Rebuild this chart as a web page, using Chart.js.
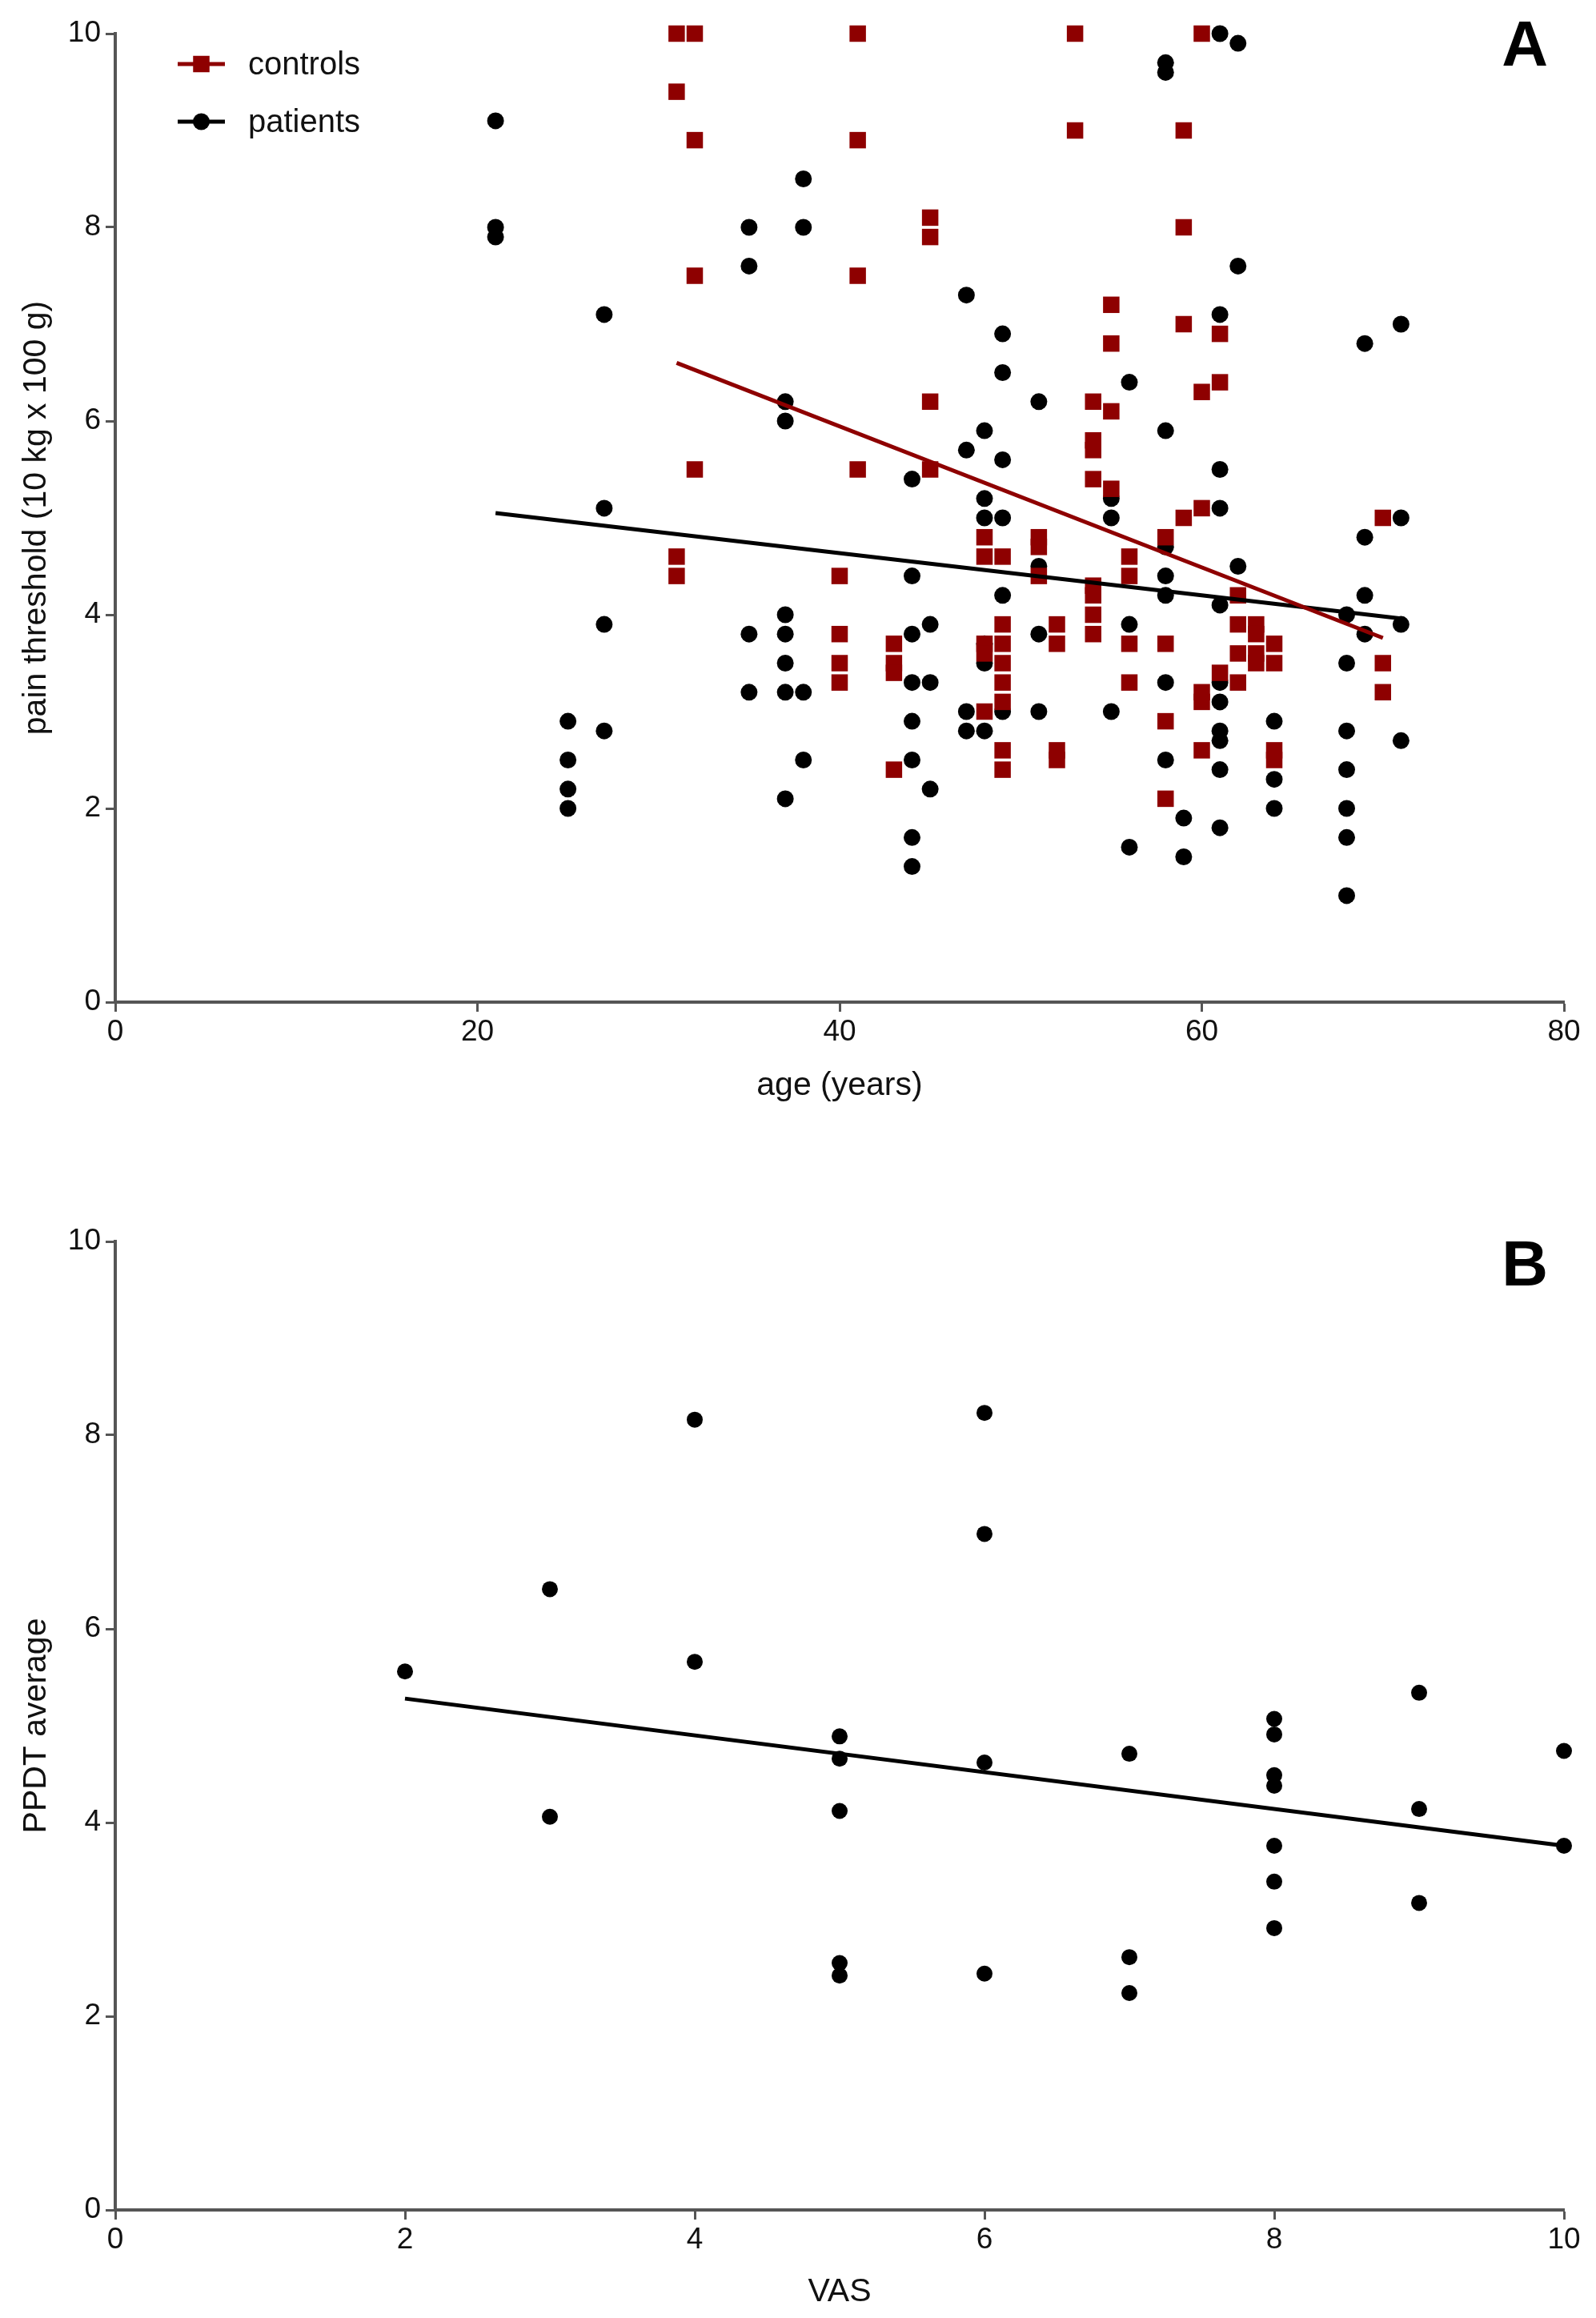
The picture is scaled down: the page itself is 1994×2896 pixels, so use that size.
<!DOCTYPE html>
<html>
<head>
<meta charset="utf-8">
<script src="https://cdn.jsdelivr.net/npm/chart.js@4.4.0/dist/chart.umd.min.js"></script>
<style>
  html, body { margin: 0; padding: 0; background: #fff; }
  body { width: 1994px; height: 2896px; position: relative; overflow: hidden; }
  .panel { position: absolute; left: 0; width: 1994px; }
  #panelA { top: 0; height: 1400px; }
  #panelB { top: 1400px; height: 1496px; }
</style>
</head>
<body>
<div class="panel" id="panelA"><canvas id="chartA"></canvas></div>
<div class="panel" id="panelB"><canvas id="chartB"></canvas></div>
<script>
// ---- panel A: pain threshold vs age ----
const controlsAge = [
  31, 31, 31, 31,  32, 32, 32, 32,  40, 40, 40, 40,  41, 41, 41, 41,
  43, 43, 43, 43,  45, 45, 45, 45,  48, 48, 48, 48, 48,
  49, 49, 49, 49, 49, 49, 49, 49,  51, 51, 51,  52, 52, 52, 52,  53, 53,
  54, 54, 54, 54, 54, 54, 54, 54,  55, 55, 55, 55,  56, 56, 56, 56,
  58, 58, 58, 58,  59, 59, 59, 59,  60, 60, 60, 60, 60, 60,  61, 61, 61,
  62, 62, 62, 62,  63, 63, 63, 63,  64, 64, 64, 64,  70, 70, 70
];
const controlsThreshold = [
  10.0, 9.4, 4.6, 4.4,  10.0, 8.9, 7.5, 5.5,  4.4, 3.8, 3.5, 3.3,  10.0, 8.9, 7.5, 5.5,
  3.7, 3.5, 3.4, 2.4,  8.1, 7.9, 6.2, 5.5,  4.8, 4.6, 3.7, 3.6, 3.0,
  4.6, 3.9, 3.7, 3.5, 3.3, 3.1, 2.6, 2.4,  4.8, 4.7, 4.4,  3.9, 3.7, 2.6, 2.5,  10.0, 9.0,
  6.2, 5.8, 5.7, 5.4, 4.3, 4.2, 4.0, 3.8,  7.2, 6.8, 6.1, 5.3,  4.6, 4.4, 3.7, 3.3,
  4.8, 3.7, 2.9, 2.1,  9.0, 8.0, 7.0, 5.0,  10.0, 6.3, 5.1, 3.2, 3.1, 2.6,  6.9, 6.4, 3.4,
  4.2, 3.9, 3.6, 3.3,  3.9, 3.8, 3.6, 3.5,  3.7, 3.5, 2.6, 2.5,  5.0, 3.5, 3.2
];
const patientsAge = [
  21, 21, 21,  25, 25, 25, 25,  27, 27, 27, 27,  35, 35, 35, 35,
  37, 37, 37, 37, 37, 37, 37,  38, 38, 38, 38,
  44, 44, 44, 44, 44, 44, 44, 44,  45, 45, 45,  47, 47, 47, 47,
  48, 48, 48, 48, 48, 48,  49, 49, 49, 49, 49, 49,  51, 51, 51, 51,
  55, 55, 55,  56, 56, 56,  58, 58, 58, 58, 58, 58, 58, 58,  59, 59,
  61, 61, 61, 61, 61, 61, 61, 61, 61, 61, 61,  62, 62, 62,  64, 64, 64,
  68, 68, 68, 68, 68, 68, 68,  69, 69, 69, 69,  71, 71, 71, 71
];
const patientsThreshold = [
  9.1, 8.0, 7.9,  2.9, 2.5, 2.2, 2.0,  7.1, 5.1, 3.9, 2.8,  8.0, 7.6, 3.8, 3.2,
  6.2, 6.0, 4.0, 3.8, 3.5, 3.2, 2.1,  8.5, 8.0, 3.2, 2.5,
  5.4, 4.4, 3.8, 3.3, 2.9, 2.5, 1.7, 1.4,  3.9, 3.3, 2.2,  7.3, 5.7, 3.0, 2.8,
  5.9, 5.2, 5.0, 3.7, 3.5, 2.8,  6.9, 6.5, 5.6, 5.0, 4.2, 3.0,  6.2, 4.5, 3.8, 3.0,
  5.2, 5.0, 3.0,  6.4, 3.9, 1.6,  9.7, 9.6, 5.9, 4.7, 4.4, 4.2, 3.3, 2.5,  1.9, 1.5,
  10.0, 7.1, 5.5, 5.1, 4.1, 3.3, 3.1, 2.8, 2.7, 2.4, 1.8,  9.9, 7.6, 4.5,  2.9, 2.3, 2.0,
  4.0, 3.5, 2.8, 2.4, 2.0, 1.7, 1.1,  6.8, 4.8, 4.2, 3.8,  7.0, 5.0, 3.9, 2.7
];
// regression lines, end points
const controlsFitAge = [31, 70];
const controlsFitValue = [6.6, 3.76];
const patientsFitAge = [21, 71];
const patientsFitValue = [5.05, 3.96];

// ---- panel B: PPDT average vs VAS ----
const vasScore = [2, 3, 3, 4, 4, 5, 5, 5, 5, 5, 6, 6, 6, 6, 7, 7, 7, 8, 8, 8, 8, 8, 8, 8, 9, 9, 9, 10, 10];
const ppdtAverage = [5.56, 6.41, 4.06, 8.16, 5.66, 4.89, 4.66, 4.12, 2.55, 2.42, 8.23, 6.98, 4.62, 2.44,
  4.71, 2.61, 2.24, 5.07, 4.91, 4.49, 4.38, 3.76, 3.39, 2.91, 5.34, 4.14, 3.17, 4.74, 3.76];
const vasFitScore = [2, 10];
const vasFitValue = [5.28, 3.76];

const RED = '#8e0000';
const FONT = '"Liberation Sans", Arial, Helvetica, sans-serif';

const toPoints = (xs, ys) => xs.map((x, i) => ({ x: x, y: ys[i] }));

// panel letter and in-plot legend
const panelDecor = {
  id: 'panelDecor',
  afterDraw(chart, args, opts) {
    const { ctx, chartArea } = chart;
    ctx.save();
    ctx.fillStyle = '#000';
    ctx.font = 'bold 80px ' + FONT;
    ctx.textAlign = 'right';
    ctx.textBaseline = 'middle';
    ctx.fillText(opts.letter, chartArea.right - 20, chartArea.top + opts.letterDy);

    (opts.legend || []).forEach((idx, i) => {
      const ds = chart.data.datasets[idx];
      const y = chartArea.top + 38 + i * 72;
      const x0 = chartArea.left + 78, x1 = chartArea.left + 137;
      ctx.strokeStyle = ds.backgroundColor;
      ctx.lineWidth = 5;
      ctx.beginPath();
      ctx.moveTo(x0, y);
      ctx.lineTo(x1, y);
      ctx.stroke();
      ctx.fillStyle = ds.backgroundColor;
      Chart.helpers.drawPoint(ctx, { pointStyle: ds.pointStyle, radius: ds.pointRadius, rotation: 0, borderWidth: 0 }, (x0 + x1) / 2, y);
      ctx.fillStyle = '#111';
      ctx.font = '40px ' + FONT;
      ctx.textAlign = 'left';
      ctx.fillText(ds.label, chartArea.left + 166, y + 2);
    });
    ctx.restore();
  }
};

function makeScales(xMax, xStep, xTitle, yTitle, xHeight, xTitlePad) {
  const grid = { display: true, drawOnChartArea: false, drawTicks: true, tickLength: 12, tickWidth: 3, tickColor: '#555' };
  const border = { display: true, color: '#555', width: 4 };
  return {
    x: {
      type: 'linear', min: 0, max: xMax,
      ticks: { stepSize: xStep, color: '#111', font: { family: FONT, size: 37 }, padding: 4 },
      grid: grid, border: border,
      title: { display: true, text: xTitle, color: '#111', font: { family: FONT, size: 41 }, padding: { top: 0, bottom: xTitlePad } },
      afterFit: s => { s.height = xHeight; }
    },
    y: {
      type: 'linear', min: 0, max: 10,
      ticks: { stepSize: 2, color: '#111', font: { family: FONT, size: 37 }, padding: 6 },
      grid: grid, border: border,
      title: { display: true, text: yTitle, color: '#111', font: { family: FONT, size: 41 }, padding: { top: 21, bottom: 0 } },
      afterFit: s => { s.width = 144; }
    }
  };
}

new Chart(document.getElementById('chartA'), {
  type: 'scatter',
  data: {
    datasets: [
      { label: 'controls fit', data: toPoints(controlsFitAge, controlsFitValue), showLine: true, borderColor: RED, borderWidth: 5, pointRadius: 0, order: 0, clip: false },
      { label: 'patients fit', data: toPoints(patientsFitAge, patientsFitValue), showLine: true, borderColor: '#000', borderWidth: 5, pointRadius: 0, order: 1, clip: false },
      { label: 'controls', data: toPoints(controlsAge, controlsThreshold), pointStyle: 'rect', pointRadius: 14.5, backgroundColor: RED, borderWidth: 0, order: 2, clip: false },
      { label: 'patients', data: toPoints(patientsAge, patientsThreshold), pointStyle: 'circle', pointRadius: 10.5, backgroundColor: '#000', borderWidth: 0, order: 3, clip: false }
    ]
  },
  options: {
    responsive: true, maintainAspectRatio: false, animation: false, devicePixelRatio: 1,
    layout: { padding: { top: 42, right: 40, left: 0, bottom: 0 } },
    scales: makeScales(80, 20, 'age (years)', 'pain threshold (10 kg x 100 g)', 148, 19),
    plugins: {
      legend: { display: false }, tooltip: { enabled: false },
      panelDecor: { letter: 'A', letterDy: 18, legend: [2, 3] }
    }
  },
  plugins: [panelDecor]
});

new Chart(document.getElementById('chartB'), {
  type: 'scatter',
  data: {
    datasets: [
      { label: 'fit', data: toPoints(vasFitScore, vasFitValue), showLine: true, borderColor: '#000', borderWidth: 5, pointRadius: 0, order: 0, clip: false },
      { label: 'patients', data: toPoints(vasScore, ppdtAverage), pointStyle: 'circle', pointRadius: 10, backgroundColor: '#000', borderWidth: 0, order: 1, clip: false }
    ]
  },
  options: {
    responsive: true, maintainAspectRatio: false, animation: false, devicePixelRatio: 1,
    layout: { padding: { top: 151, right: 40, left: 0, bottom: 0 } },
    scales: makeScales(10, 2, 'VAS', 'PPDT average', 135, 8),
    plugins: {
      legend: { display: false }, tooltip: { enabled: false },
      panelDecor: { letter: 'B', letterDy: 33 }
    }
  },
  plugins: [panelDecor]
});
</script>
</body>
</html>
